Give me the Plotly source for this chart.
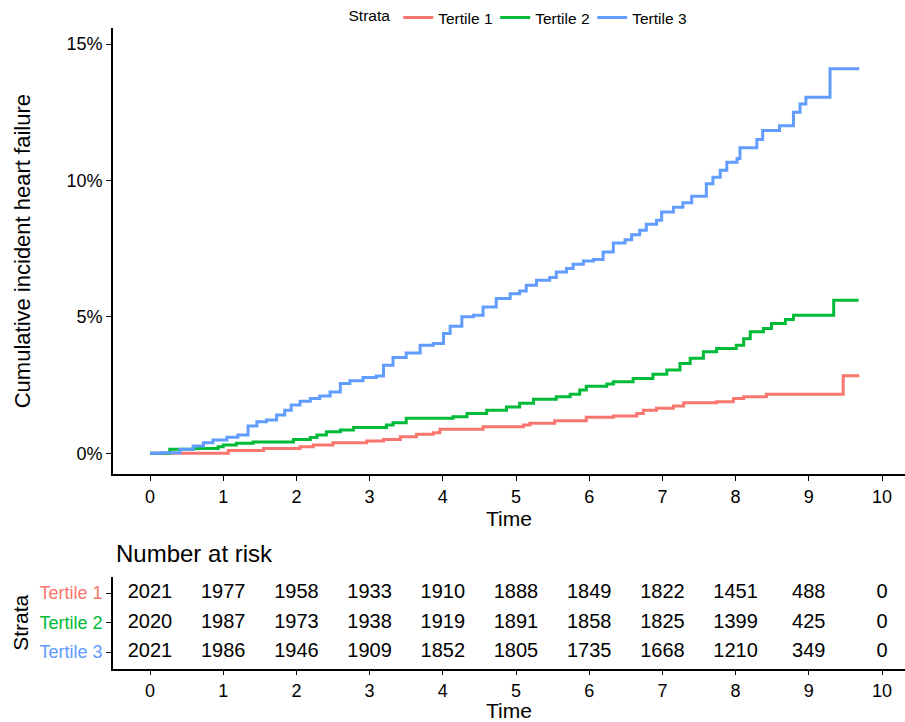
import plotly.graph_objects as go

# ---------------- data ----------------
strata = ["Tertile 1", "Tertile 2", "Tertile 3"]
colors = ["#F8766D", "#00BA38", "#619CFF"]

t1_time = [0, 1.07, 1.55, 2.05, 2.23, 2.5, 2.96, 3.19, 3.42, 3.64, 3.87, 3.96, 4.55, 5.1, 5.19,
           5.53, 5.96, 6.33, 6.65, 6.74, 6.92, 7.15, 7.29, 7.74, 7.97, 8.11, 8.42, 9.47, 9.69]
t1_cum = [0, 0.1, 0.18, 0.24, 0.3, 0.39, 0.45, 0.51, 0.61, 0.7, 0.75, 0.88, 0.97, 1.04, 1.1,
          1.19, 1.32, 1.37, 1.46, 1.58, 1.65, 1.73, 1.85, 1.89, 2.01, 2.07, 2.16, 2.84, 2.84]

t2_time = [0, 0.27, 0.59, 0.93, 1.0, 1.18, 1.41, 1.96, 2.19, 2.28, 2.41, 2.6, 2.78, 3.23, 3.32,
           3.5, 4.14, 4.33, 4.6, 4.87, 5.05, 5.24, 5.55, 5.74, 5.87, 5.96, 6.24, 6.33, 6.6, 6.87,
           7.06, 7.24, 7.38, 7.56, 7.74, 8.01, 8.11, 8.2, 8.38, 8.49, 8.68, 8.79, 9.34, 9.68]
t2_cum = [0, 0.15, 0.18, 0.24, 0.3, 0.37, 0.41, 0.51, 0.58, 0.67, 0.79, 0.85, 0.95, 1.04, 1.12,
          1.28, 1.34, 1.46, 1.58, 1.7, 1.83, 1.98, 2.07, 2.16, 2.32, 2.46, 2.54, 2.62, 2.74, 2.9,
          3.05, 3.29, 3.48, 3.72, 3.84, 3.96, 4.2, 4.45, 4.57, 4.76, 4.9, 5.06, 5.61, 5.61]

t3_time = [0, 0.14, 0.41, 0.59, 0.73, 0.86, 1.05, 1.2, 1.34, 1.46, 1.59, 1.73, 1.84, 1.93, 2.05,
           2.19, 2.32, 2.46, 2.6, 2.73, 2.91, 3.09, 3.19, 3.32, 3.5, 3.69, 3.87, 4.01, 4.1, 4.26,
           4.42, 4.55, 4.73, 4.92, 5.05, 5.14, 5.28, 5.46, 5.55, 5.69, 5.78, 5.92, 6.06, 6.19, 6.33,
           6.49, 6.58, 6.69, 6.78, 6.92, 6.99, 7.15, 7.28, 7.4, 7.6, 7.69, 7.79, 7.88, 8.02, 8.06,
           8.29, 8.37, 8.6, 8.79, 8.88, 8.96, 9.29, 9.69]
t3_cum = [0, 0.02, 0.15, 0.27, 0.39, 0.49, 0.59, 0.67, 1.0, 1.16, 1.22, 1.4, 1.58, 1.77, 1.91,
          2.01, 2.1, 2.25, 2.56, 2.66, 2.78, 2.83, 3.23, 3.51, 3.68, 3.96, 4.02, 4.39, 4.66, 5.0,
          5.06, 5.36, 5.67, 5.85, 5.95, 6.16, 6.34, 6.44, 6.64, 6.77, 6.93, 7.05, 7.1, 7.38, 7.71,
          7.83, 8.01, 8.17, 8.39, 8.54, 8.84, 9.02, 9.18, 9.42, 9.88, 10.12, 10.37, 10.67, 10.8, 11.2,
          11.5, 11.83, 12.0, 12.5, 12.8, 13.05, 14.09, 14.09]

risk_times = [0, 1, 2, 3, 4, 5, 6, 7, 8, 9, 10]
risk_t1 = [2021, 1977, 1958, 1933, 1910, 1888, 1849, 1822, 1451, 488, 0]
risk_t2 = [2020, 1987, 1973, 1938, 1919, 1891, 1858, 1825, 1399, 425, 0]
risk_t3 = [2021, 1986, 1946, 1909, 1852, 1805, 1735, 1668, 1210, 349, 0]

y_ticks = [0, 5, 10, 15]
x_ticks = [0, 1, 2, 3, 4, 5, 6, 7, 8, 9, 10]

# ---------------- figure ----------------
FONT = "Liberation Sans, Arial, sans-serif"
W, H = 905, 722
fig = go.Figure()

curves = [(t1_time, t1_cum), (t2_time, t2_cum), (t3_time, t3_cum)]
for name, col, (tt, vv) in zip(strata, colors, curves):
    fig.add_trace(go.Scatter(x=tt, y=vv, mode="lines", name=name,
                             line=dict(color=col, width=3, shape="hv"),
                             xaxis="x", yaxis="y", showlegend=True))

risk_rows = [risk_t1, risk_t2, risk_t3]
row_pos = [3, 2, 1]
for rr, yp in zip(risk_rows, row_pos):
    fig.add_trace(go.Scatter(x=risk_times, y=[yp] * len(risk_times), mode="text",
                             text=[str(v) for v in rr], textposition="middle center",
                             textfont=dict(family=FONT, size=20, color="black"),
                             xaxis="x2", yaxis="y2", showlegend=False, hoverinfo="skip"))

# pixel geometry
x0px, x10px = 150, 882
ppu = (x10px - x0px) / 10.0
left_px, right_px = 113, 905
xr = [(left_px - x0px) / ppu, 10 + (right_px - x10px) / ppu]

y0px, y15px = 453.3, 44
ppy = (y0px - y15px) / 15.0
top_px, bot_px = 28, 474.3
yr = [-(bot_px - y0px) / ppy, (y0px - top_px) / ppy]

# table geometry
rpp = (652 - 593) / 2.0
t_top, t_bot = 577, 668.5
yr2 = [1 - (t_bot - 652) / rpp, 3 + (593 - t_top) / rpp]

axis_common = dict(showline=True, linecolor="black", linewidth=1.6, ticks="outside",
                   ticklen=5, tickwidth=1.3, tickcolor="black", showgrid=False,
                   zeroline=False, mirror=False,
                   tickfont=dict(family=FONT, size=18, color="black"))

fig.update_layout(
    width=W, height=H, margin=dict(l=0, r=0, t=0, b=0),
    paper_bgcolor="white", plot_bgcolor="white",
    font=dict(family=FONT, color="black"),
    xaxis=dict(domain=[left_px / W, 1.0], range=xr, tickvals=x_ticks,
               title=dict(text="Time", font=dict(family=FONT, size=21), standoff=0),
               anchor="y", **axis_common),
    yaxis=dict(domain=[1 - bot_px / H, 1 - top_px / H], range=yr, tickvals=y_ticks,
               ticktext=[f"{v}%" for v in y_ticks],
               title=dict(text="Cumulative incident heart failure",
                          font=dict(family=FONT, size=22), standoff=30),
               anchor="x", **axis_common),
    xaxis2=dict(domain=[left_px / W, 1.0], range=xr, tickvals=x_ticks,
                title=dict(text="Time", font=dict(family=FONT, size=21), standoff=0),
                anchor="y2", **axis_common),
    yaxis2=dict(domain=[1 - t_bot / H, 1 - t_top / H], range=yr2, tickvals=row_pos,
                ticktext=[f'<span style="color:{c}">{s}</span>' for s, c in zip(strata, colors)],
                title=dict(text="Strata", font=dict(family=FONT, size=21), standoff=5),
                anchor="x2", **axis_common),
    legend=dict(orientation="h", x=518 / W, xanchor="center", y=1 - 18 / H, yanchor="middle",
                title=dict(text="Strata", font=dict(family=FONT, size=15.5)),
                font=dict(family=FONT, size=15.5, color="black"),
                itemwidth=30, entrywidth=52, bgcolor="rgba(0,0,0,0)"),
    annotations=[dict(text="Number at risk", x=114 / W, y=1 - 553 / H, xref="paper", yref="paper",
                      xanchor="left", yanchor="middle", showarrow=False,
                      font=dict(family=FONT, size=24, color="black"))],
)

fig.write_html("out.html")
